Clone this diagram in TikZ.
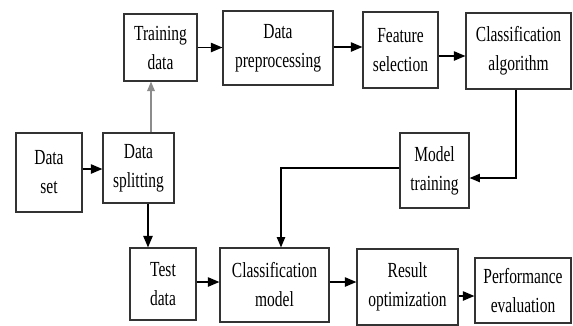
\documentclass[tikz,border=0pt]{standalone}
\usepackage{fontspec}
\setmainfont{Liberation Serif}[FakeStretch=0.72]
\usetikzlibrary{arrows}

\begin{document}
\begin{tikzpicture}[x=1pt,y=-1pt,
  box/.style={draw=black!80,line width=1.3pt,align=center,inner sep=0pt,
    font=\fontsize{21.5}{29}\selectfont},
  arr/.style={-triangle 45,line width=1.7pt}]
\useasboundingbox (0,0) rectangle (573,325);

\node[box,minimum width=66pt,minimum height=79pt] (set) at (49,172.5) {Data\\set};
\node[box,minimum width=71pt,minimum height=70pt] (split) at (138.5,168) {Data\\splitting};
\node[box,minimum width=73pt,minimum height=67pt] (train) at (160.5,47.5) {Training\\data};
\node[box,minimum width=110pt,minimum height=74pt] (prep) at (278,48) {Data\\preprocessing};
\node[box,minimum width=75pt,minimum height=76pt] (feat) at (400.5,50) {Feature\\selection};
\node[box,minimum width=105pt,minimum height=76pt] (algo) at (518.5,51) {Classification\\algorithm};
\node[box,minimum width=69pt,minimum height=75pt] (mtrain) at (434.5,170.5) {Model\\training};
\node[box,minimum width=66pt,minimum height=72pt] (test) at (163,284) {Test\\data};
\node[box,minimum width=109pt,minimum height=74pt] (cmodel) at (274.5,285) {Classification\\model};
\node[box,minimum width=101pt,minimum height=76pt] (result) at (407.5,287) {Result\\optimization};
\node[box,minimum width=96pt,minimum height=65pt] (perf) at (523,290.5) {Performance\\evaluation};

\draw[arr] ([yshift=3.5pt]set.east) -- ([yshift=3.5pt]set.east -| split.west);
\draw[-triangle 45,line width=1.2pt,black!45] ([xshift=12.5pt]split.north) -- ([xshift=12.5pt]split.north |- train.south);
\draw[arr] ([xshift=9.5pt]split.south) -- ([xshift=9.5pt]split.south |- test.north);
\draw[arr] (train.east) -- (train.east -| prep.west);
\draw[arr] ([yshift=1pt]prep.east) -- ([yshift=1pt]prep.east -| feat.west);
\draw[arr] ([yshift=-6pt]feat.east) -- ([yshift=-6pt]feat.east -| algo.west);
\draw[arr,line width=1.4pt] ([xshift=-2.5pt]algo.south) |- ([yshift=-7.5pt]mtrain.east);
\draw[arr,line width=1.4pt] ([yshift=2.5pt]mtrain.west) -| ([xshift=6.5pt]cmodel.north);
\draw[arr] ([yshift=2pt]test.east) -- ([yshift=2pt]test.east -| cmodel.west);
\draw[arr] ([yshift=3pt]cmodel.east) -- ([yshift=3pt]cmodel.east -| result.west);
\draw[arr] ([yshift=-9pt]result.east) -- ([yshift=-9pt]result.east -| perf.west);

\end{tikzpicture}
\end{document}
